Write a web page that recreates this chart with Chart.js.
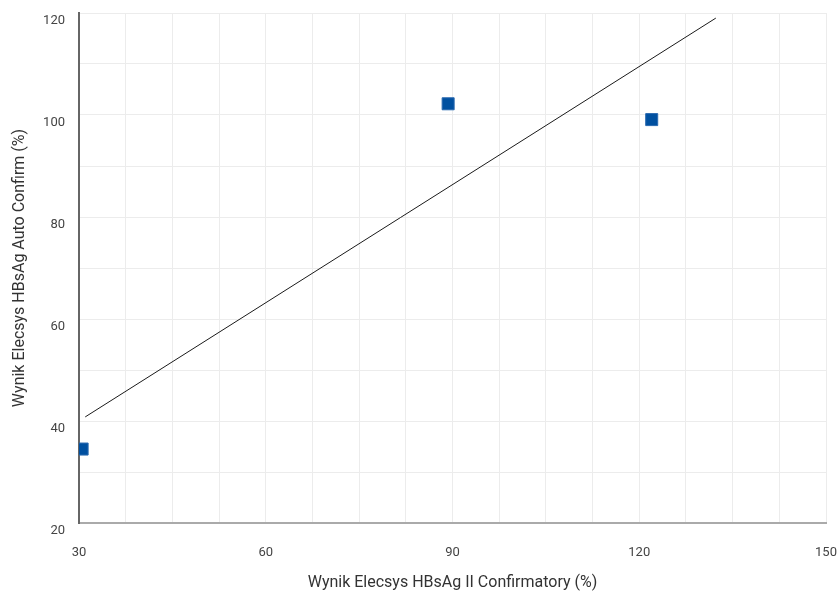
<!DOCTYPE html>
<html><head><meta charset="utf-8">
<script src="https://cdn.jsdelivr.net/npm/chart.js@4/dist/chart.umd.min.js"></script>
<style>html,body{margin:0;padding:0;background:#fff}#wrap{width:838px;height:593px}</style>
</head><body><div id="wrap"><canvas id="c"></canvas></div>
<script>
const confirmatoryX = [30.5, 89.3, 122.0];
const autoConfirmY = [34.5, 102.2, 99.1];
const fitLineX = [31.0, 132.3];
const fitLineY = [40.8, 119.0];
const xTitle = 'Wynik Elecsys HBsAg II Confirmatory (%)';
const yTitle = 'Wynik Elecsys HBsAg Auto Confirm (%)';

const pts = confirmatoryX.map((x,i)=>({x, y: autoConfirmY[i]}));
const fit = fitLineX.map((x,i)=>({x, y: fitLineY[i]}));
const font = {family: 'Roboto, "Open Sans", sans-serif', size: 13};

new Chart(document.getElementById('c'), {
  type: 'scatter',
  data: { datasets: [
    { type:'line', data: fit, borderColor:'#1a1a1a', borderWidth:1, pointRadius:0, fill:false, order:2 },
    { data: pts, pointStyle:'rect', pointRadius:8.5, pointHoverRadius:8.5, backgroundColor:'#0050a0', borderColor:'#2a6ab0', borderWidth:1, order:1 }
  ]},
  options: {
    responsive:true, maintainAspectRatio:false, animation:false,
    plugins:{legend:{display:false}, tooltip:{enabled:false}},
    layout:{padding:{top:13, right:12, left:0, bottom:0}},
    scales:{
      x:{ type:'linear', min:30, max:150,
        ticks:{ stepSize:7.5, autoSkip:false, maxRotation:0, color:'#444', font, padding:22,
          callback:v => (Math.abs(v % 30) < 1e-6 ? String(v) : '') },
        grid:{ color:'#ececec', drawTicks:false, lineWidth:1 },
        border:{ color:'#aaaaaa', width:2 },
        title:{ display:true, text:xTitle, color:'#333', font:{family:font.family, size:16}, padding:{top:8, bottom:0} },
        afterFit: s => { s.height = 70; s.paddingLeft = 0; s.paddingRight = 0; }
      },
      y:{ type:'linear', min:20, max:120,
        ticks:{ stepSize:10, autoSkip:false, color:'#444', font, padding:14, labelOffset:8,
          callback:v => (v % 20 === 0 ? String(v) : '') },
        grid:{ color:'#ececec', drawTicks:false, lineWidth:1 },
        border:{ color:'#666666', width:2 },
        title:{ display:true, text:yTitle, color:'#333', font:{family:font.family, size:16}, padding:{top:10, bottom:4} },
        afterFit: s => { s.width = 79; s.paddingTop = 0; s.paddingBottom = 0; }
      }
    }
  }
});
</script></body></html>
